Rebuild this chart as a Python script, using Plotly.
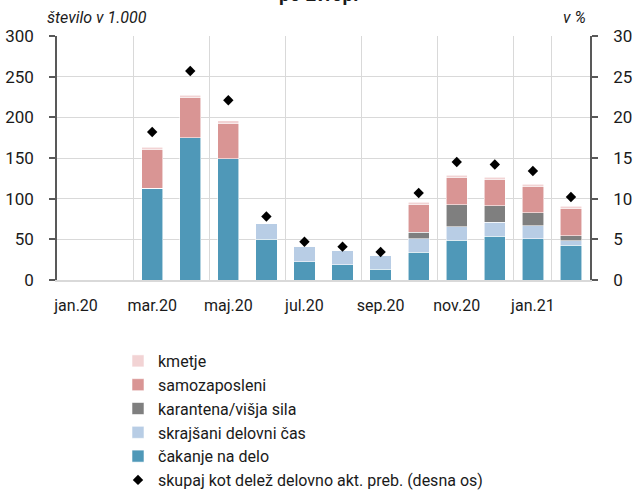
import plotly.graph_objects as go

months = ["jan.20", "feb.20", "mar.20", "apr.20", "maj.20", "jun.20", "jul.20",
          "avg.20", "sep.20", "okt.20", "nov.20", "dec.20", "jan.21", "feb.21"]

cakanje = [0, 0, 113, 175, 149, 50, 22.5, 18.5, 13.5, 34, 49, 54, 50.5, 42.5]
skrajsani = [0, 0, 0, 0, 0, 20, 18.5, 17.5, 16.5, 17, 16.5, 17, 16, 6]
karantena = [0, 0, 0, 0, 0, 0, 0.7, 0.7, 0.7, 7.5, 27, 20, 16, 6]
samozaposleni = [0, 0, 47.5, 49, 43.5, 0, 0, 0, 0, 34, 33.5, 33, 33, 33]
kmetje = [0, 0, 3, 3, 3, 0, 0, 0, 0, 3, 3, 2.5, 2.5, 3]
delez = [None, None, 18.2, 25.7, 22.1, 7.8, 4.7, 4.1, 3.45, 10.7, 14.5, 14.2, 13.4, 10.2]

FONT = "Roboto, Liberation Sans Narrow, sans-serif"
TXT = "#1a1a1a"

series = [
    ("čakanje na delo", cakanje, "#4F98B8", 5),
    ("skrajšani delovni čas", skrajsani, "#B8CDE5", 4),
    ("karantena/višja sila", karantena, "#7F7F7F", 3),
    ("samozaposleni", samozaposleni, "#D99594", 2),
    ("kmetje", kmetje, "#F2D3D4", 1),
]

fig = go.Figure()
for name, vals, col, rank in series:
    fig.add_trace(go.Bar(
        x=months, y=vals, name=name, legendrank=rank,
        marker=dict(color=col, line=dict(color="rgba(255,255,255,0.7)", width=0.8)),
        width=0.56,
    ))

fig.add_trace(go.Scatter(
    x=months, y=delez, name="skupaj kot delež delovno akt. preb. (desna os)",
    mode="markers", yaxis="y2", legendrank=6,
    marker=dict(symbol="diamond", size=8, color="#000000"),
))

fig.update_layout(
    width=634, height=493,
    margin=dict(l=57, r=44, t=36, b=213, autoexpand=False),
    barmode="stack",
    plot_bgcolor="white", paper_bgcolor="white",
    font=dict(family=FONT, size=16, color=TXT),
    showlegend=True,
    legend=dict(
        xref="container", yref="container",
        x=118 / 634, y=1 - 344 / 493, xanchor="left", yanchor="top",
        traceorder="normal", font=dict(size=16, family=FONT, color=TXT),
        tracegroupgap=0, itemwidth=30, bgcolor="rgba(0,0,0,0)",
    ),
    xaxis=dict(
        type="category", range=[-0.5, 13.5], automargin=False,
        tickmode="array", tickvals=months[::2], ticktext=months[::2],
        tickson="boundaries", ticks="", showgrid=True, tickangle=0,
        gridcolor="#D9D9D9", gridwidth=1,
        showline=True, linecolor="#D9D9D9", linewidth=2,
        tickfont=dict(size=16, family=FONT, color=TXT),
        ticklabelstandoff=10,
    ),
    yaxis=dict(
        range=[0, 300], dtick=50, showgrid=True, gridcolor="#D9D9D9", gridwidth=1,
        showline=True, linecolor="#595959", linewidth=1.5, automargin=False,
        ticks="outside", ticklen=6, tickcolor="#595959", tickwidth=1.5,
        zeroline=False, tickfont=dict(size=17, family=FONT, color=TXT),
        ticklabelstandoff=12,
    ),
    yaxis2=dict(
        range=[0, 30], dtick=5, overlaying="y", side="right", showgrid=False,
        showline=True, linecolor="#595959", linewidth=1.5, automargin=False,
        ticks="outside", ticklen=6, tickcolor="#595959", tickwidth=1.5,
        zeroline=False, tickfont=dict(size=17, family=FONT, color=TXT),
        ticklabelstandoff=12,
    ),
    annotations=[
        dict(text="<b>po Evropi</b>", xref="paper", yref="paper",
             x=(318 - 57) / 533, y=1.115, xanchor="center", yanchor="bottom",
             showarrow=False, font=dict(size=19, family=FONT, color=TXT)),
        dict(text="<i>število v 1.000</i>", xref="paper", yref="paper",
             x=(45 - 57) / 533, y=1.03, xanchor="left", yanchor="bottom",
             showarrow=False, font=dict(size=16, family=FONT, color=TXT)),
        dict(text="<i>v %</i>", xref="paper", yref="paper",
             x=(588 - 57) / 533, y=1.03, xanchor="right", yanchor="bottom",
             showarrow=False, font=dict(size=16, family=FONT, color=TXT)),
    ],
)

fig.write_html(
    "out.html",
    config={"displayModeBar": False},
    post_script="document.body.style.margin='0';document.body.style.padding='0';",
)
